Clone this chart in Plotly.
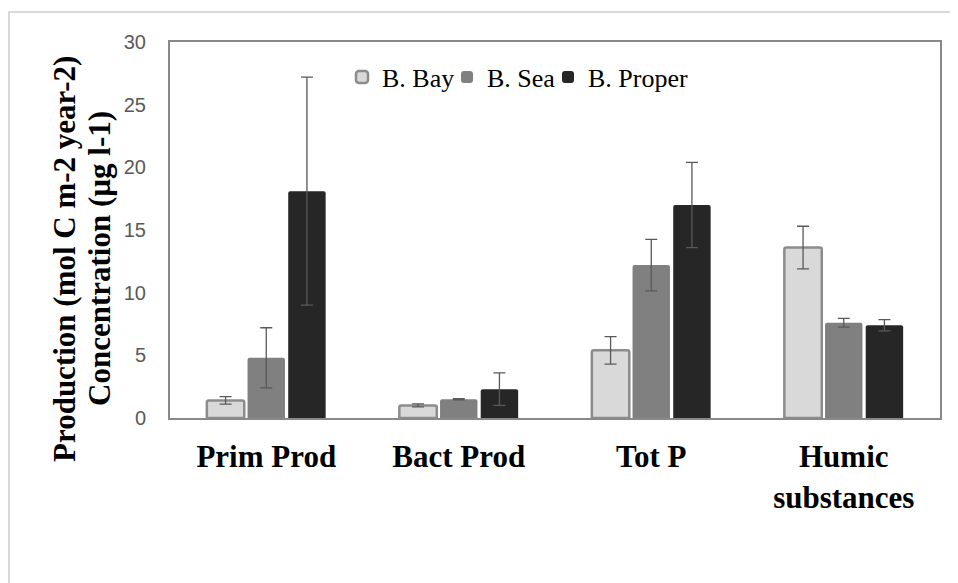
import plotly.graph_objects as go

categories = ["Prim Prod", "Bact Prod", "Tot P", "Humic<br>substances"]
series_names = ["B. Bay", "B. Sea", "B. Proper"]
bay_values = [1.4, 1.0, 5.4, 13.6]
bay_errors = [0.3, 0.12, 1.1, 1.7]
sea_values = [4.8, 1.5, 12.2, 7.6]
sea_errors = [2.4, 0.05, 2.05, 0.35]
proper_values = [18.1, 2.3, 17.0, 7.4]
proper_errors = [9.1, 1.3, 3.4, 0.45]
y_ticks = [0, 5, 10, 15, 20, 25, 30]
y_title_lines = ["Production (mol C m-2 year-2)", "Concentration (µg l-1)"]

fills = ["#d9d9d9", "#808080", "#262626"]
outlines = ["#8c8c8c", "#808080", "#262626"]
outline_w = [2.5, 0, 0]
values = [bay_values, sea_values, proper_values]
errors = [bay_errors, sea_errors, proper_errors]
legend_ids = ["legend", "legend2", "legend3"]

serif = "Liberation Serif"

# page body adds an 8px offset; work in reference-pixel coordinates
OFF = 8
W, H = 958 - OFF, 583 - OFF
L, R, T, B = 170 - OFF, 958 - 940, 42 - OFF, 583 - 418
pw = W - L - R
ph = H - T - B

def px_x(x):
    return (x - OFF - L) / pw

def px_y(y):
    return (H - B - (y - OFF)) / ph

fig = go.Figure()
for i, name in enumerate(series_names):
    fig.add_trace(go.Bar(
        name=name,
        x=categories,
        y=values[i],
        legend=legend_ids[i],
        marker=dict(color=fills[i], line=dict(color=outlines[i], width=outline_w[i]), cornerradius=2),
        error_y=dict(type="data", array=errors[i], visible=True,
                     color="#595959", thickness=1.3, width=6),
    ))

annotations = []
for xc, txt in zip([64, 99], y_title_lines):
    annotations.append(dict(
        text="<b>" + txt + "</b>", textangle=-90,
        x=px_x(xc), y=px_y(259), xref="paper", yref="paper",
        xanchor="center", yanchor="middle", showarrow=False,
        font=dict(family=serif, size=31, color="#000000"),
    ))

legend_square_centers = [362, 467, 568]
legend_layouts = {}
for lid, sx in zip(legend_ids, legend_square_centers):
    legend_layouts[lid] = dict(
        orientation="h", x=px_x(sx - 20), y=px_y(77), xanchor="left", yanchor="middle",
        font=dict(family=serif, size=26, color="#000000"),
        bgcolor="rgba(0,0,0,0)", itemwidth=30,
    )

fig.update_layout(
    width=W, height=H,
    margin=dict(l=L, r=R, t=T, b=B),
    paper_bgcolor="white", plot_bgcolor="white",
    barmode="group", bargap=0.366, bargroupgap=0.08,
    showlegend=True,
    annotations=annotations,
    shapes=[dict(type="rect", xref="paper", yref="paper",
                 x0=px_x(9), y0=px_y(640), x1=px_x(1000), y1=px_y(12),
                 line=dict(color="#d9d9d9", width=2), layer="below")],
    xaxis=dict(
        showline=True, linecolor="#898989", linewidth=2, mirror=True,
        showgrid=False, ticks="", ticklabelstandoff=10,
        tickfont=dict(family=serif, size=31, color="#000000"),
        tickprefix="<b>", ticksuffix="</b>",
    ),
    yaxis=dict(
        range=[0, 30], tickvals=y_ticks, ticktext=[str(v) for v in y_ticks],
        showline=True, linecolor="#898989", linewidth=2, mirror=True,
        showgrid=False, ticks="", zeroline=False, ticklabelstandoff=18,
        tickfont=dict(family="Liberation Sans", size=20, color="#595959"),
    ),
    **legend_layouts,
)

fig.write_html("out.html")
